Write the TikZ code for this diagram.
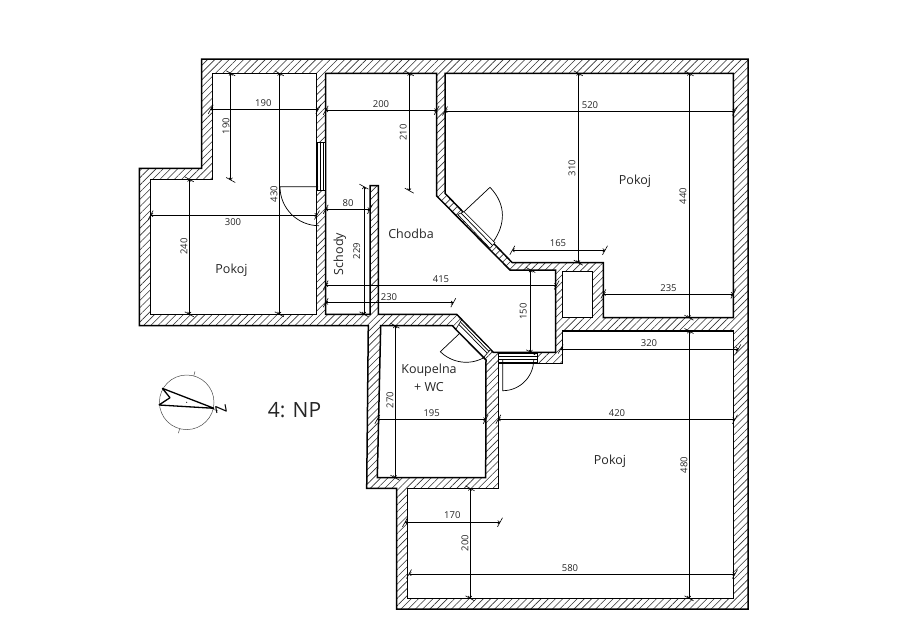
\documentclass[tikz,border=0pt]{standalone}
\usepackage{fontspec}
\setmainfont{Open Sans}
\usetikzlibrary{patterns.meta,arrows.meta}
\tikzset{
	wall/.style={draw,line width=1.5pt,line join=miter,pattern={Lines[angle=45,distance=5.1pt,line width=0.6pt]},pattern color=black!80},
	room/.style={draw,line width=1.5pt,line join=miter,fill=white},
	frame/.style={draw,line width=0.6pt,fill=white},
	leaf/.style={line width=0.7pt},
	dimline/.style={line width=0.6pt,{To[length=2.5pt,width=4pt]}-{To[length=2.5pt,width=4pt]}},
	dimtick/.style={line width=0.6pt},
	dimtext/.style={inner sep=0pt,font=\fontsize{9.5}{11}\selectfont,text=black!85},
	roomtext/.style={inner sep=0pt,font=\fontsize{12.5}{18}\selectfont,text=black!85,align=center},
}
\begin{document}
\begin{tikzpicture}[x=1pt,y=-1pt]
	\useasboundingbox (0,0) rectangle (922,635);
	% outer contour
	\draw[wall] (201.5,59) -- (748,59) -- (748,609) -- (396.7,609) -- (396.7,488.3) -- (366.7,488.3)
		-- (368.3,325.5) -- (139.3,325.5) -- (139.3,168.3) -- (201.5,168.3) -- cycle;
	% rooms
	\draw[room] (212.7,73.3) -- (316.7,73.3) -- (316.7,314.3) -- (150.7,314.3) -- (150.7,179.3) -- (212.7,179.3) -- cycle;
	\draw[room] (325.7,73.3) -- (436.7,73.3) -- (436.7,196) -- (510,270) -- (555.7,270) -- (555.7,352.3) -- (493.3,352.3)
		-- (456.7,314.3) -- (378.3,314.3) -- (378.3,185.7) -- (370,185.7) -- (370,314.3) -- (325.7,314.3) -- cycle;
	\draw[room] (445,73.3) -- (733.3,73.3) -- (733.3,317.7) -- (603.3,317.7) -- (603.3,262.7) -- (512.3,262.7) -- (445,193.3) -- cycle;
	\draw[room] (562.3,271.7) rectangle (592.3,317.3);
	\draw[room] (562.3,331) -- (733.3,331) -- (733.3,598.3) -- (407.7,598.3) -- (407.7,488.3) -- (498.3,488.3)
		-- (498.3,363.3) -- (562.3,363.3) -- cycle;
	\draw[room] (380.7,325.7) -- (452.3,325.7) -- (486,360) -- (485.7,477.7) -- (377.3,477.7) -- cycle;
	% doors
	\draw[frame] (317.5,142.7) rectangle (325.5,190);
	\draw[leaf] (320,142.7) -- (320,190) (323,142.7) -- (323,190);
	\draw[leaf] (318,186.7) -- (280,186.7) arc[start angle=180,end angle=90,radius=39];
	\draw[frame] (464,211.7) -- (495,242.7) -- (490,248.3) -- (457.7,214.5) -- cycle;
	\draw[leaf] (461,213) -- (492.5,245.5);
	\draw[leaf] (464,211.7) -- (490,187.3) .. controls (507,205) and (505,225) .. (493.3,241.7);
	\draw[frame] (461.5,320) -- (490.5,349.5) -- (484,357) -- (456,329) -- cycle;
	\draw[leaf] (459,324.5) -- (487,353) (460.5,322) -- (489,351.5);
	\draw[leaf] (460,333) -- (440.3,351.7) .. controls (452,363) and (470,366) .. (485,357);
	\draw[frame] (498.3,353.5) rectangle (537,362.7);
	\draw[leaf] (498.3,356.5) -- (537,356.5) (498.3,359.5) -- (537,359.5);
	\draw[leaf] (502.7,360) -- (502.7,390.7) arc[start angle=90,end angle=0,radius=31];
	% horizontal dimensions
	\foreach \nm/\y/\a/\b/\t/\lx/\ly in {
		ha/109.3/210.7/318.3/190/263.3/103,
		hb/110.3/325.7/436.7/200/381/104,
		hc/111/445/735/520/590/105,
		hd/215/150.7/317/300/233/222.5,
		he/209.3/325.7/370/80/348/203,
		hf/285/325.7/556.7/415/441/279,
		hg/302.7/325.7/453.3/230/389/296.7,
		hh/250.3/512.3/605/165/558/243.5,
		hi/294/603.3/733.3/235/668.5/288,
		hj/349/560.7/738.3/320/649/343,
		hk/419.3/377.3/485.7/195/431.7/413.3,
		hl/419.3/498.3/735/420/617/413.3,
		hm/522.3/405/500/170/452.3/515.5,
		hn/574/409/735/580/570/568} {
		\coordinate (\nm-a) at (\a,\y);
		\coordinate (\nm-b) at (\b,\y);
		\draw[dimline] (\nm-a) -- (\nm-b);
		\draw[dimtick] ([shift={(-2.5,4.5)}]\nm-a) -- ([shift={(2.5,-4.5)}]\nm-a);
		\draw[dimtick] ([shift={(-2.5,4.5)}]\nm-b) -- ([shift={(2.5,-4.5)}]\nm-b);
		\node[dimtext] (\nm-t) at (\lx,\ly) {\t};
	}
	% vertical dimensions
	\foreach \nm/\x/\a/\b/\t/\lx/\ly in {
		va/230.7/73.3/180/190/226/126,
		vb/279.3/73.3/314.3/430/274/194,
		vc/189.3/179.3/314.3/240/184/246.7,
		vd/409.3/73.3/190.7/210/403.3/132.3,
		ve/364/186.7/314.3/229/356.7/251,
		vf/578.3/73.3/262.7/310/572/168,
		vg/689/73.3/317.7/440/683/196,
		vh/530.7/270/352.3/150/523.3/311.7,
		vi/395/325.7/477.7/270/390/400,
		vj/689/331/598.3/480/684/465,
		vk/470/488.3/598.3/200/465/543} {
		\coordinate (\nm-a) at (\x,\a);
		\coordinate (\nm-b) at (\x,\b);
		\draw[dimline] (\nm-a) -- (\nm-b);
		\draw[dimtick] ([shift={(-4.5,-2.5)}]\nm-a) -- ([shift={(4.5,2.5)}]\nm-a);
		\draw[dimtick] ([shift={(-4.5,-2.5)}]\nm-b) -- ([shift={(4.5,2.5)}]\nm-b);
		\node[dimtext,rotate=90] (\nm-t) at (\lx,\ly) {\t};
	}
	% room names
	\node[roomtext] (pokojw) at (231.5,270.5) {Pokoj};
	\node[roomtext,rotate=90] (schody) at (340,254) {Schody};
	\node[roomtext] (chodba) at (411,234) {Chodba};
	\node[roomtext] (pokojn) at (635,181) {Pokoj};
	\node[roomtext] (pokojs) at (610,461) {Pokoj};
	\node[roomtext] (koupelna) at (429,378) {Koupelna\\+ WC};
	\node[inner sep=0pt,font=\fontsize{21}{24}\selectfont,text=black!85] (podlazi) at (294.5,410) {4: NP};
	% compass
	\draw[line width=0.5pt,black!70] (186.7,402.3) coordinate (sever) circle[radius=27.3];
	\foreach \a in {15,105,195} \draw[line width=0.5pt,black!70] ([shift={(\a-90:27.3)}]sever) -- ([shift={(\a-90:32)}]sever);
	\draw[line width=1.3pt,line join=bevel] (162.3,388.3) -- (214,408.3) -- (159,405) -- (170,397.7) -- cycle;
	\fill (186.7,402.3) circle[radius=0.6];
	\node[inner sep=0pt,rotate=100,font=\fontsize{15}{16}\selectfont] (znacka) at (221,409.5) {Z};
\end{tikzpicture}
\end{document}
